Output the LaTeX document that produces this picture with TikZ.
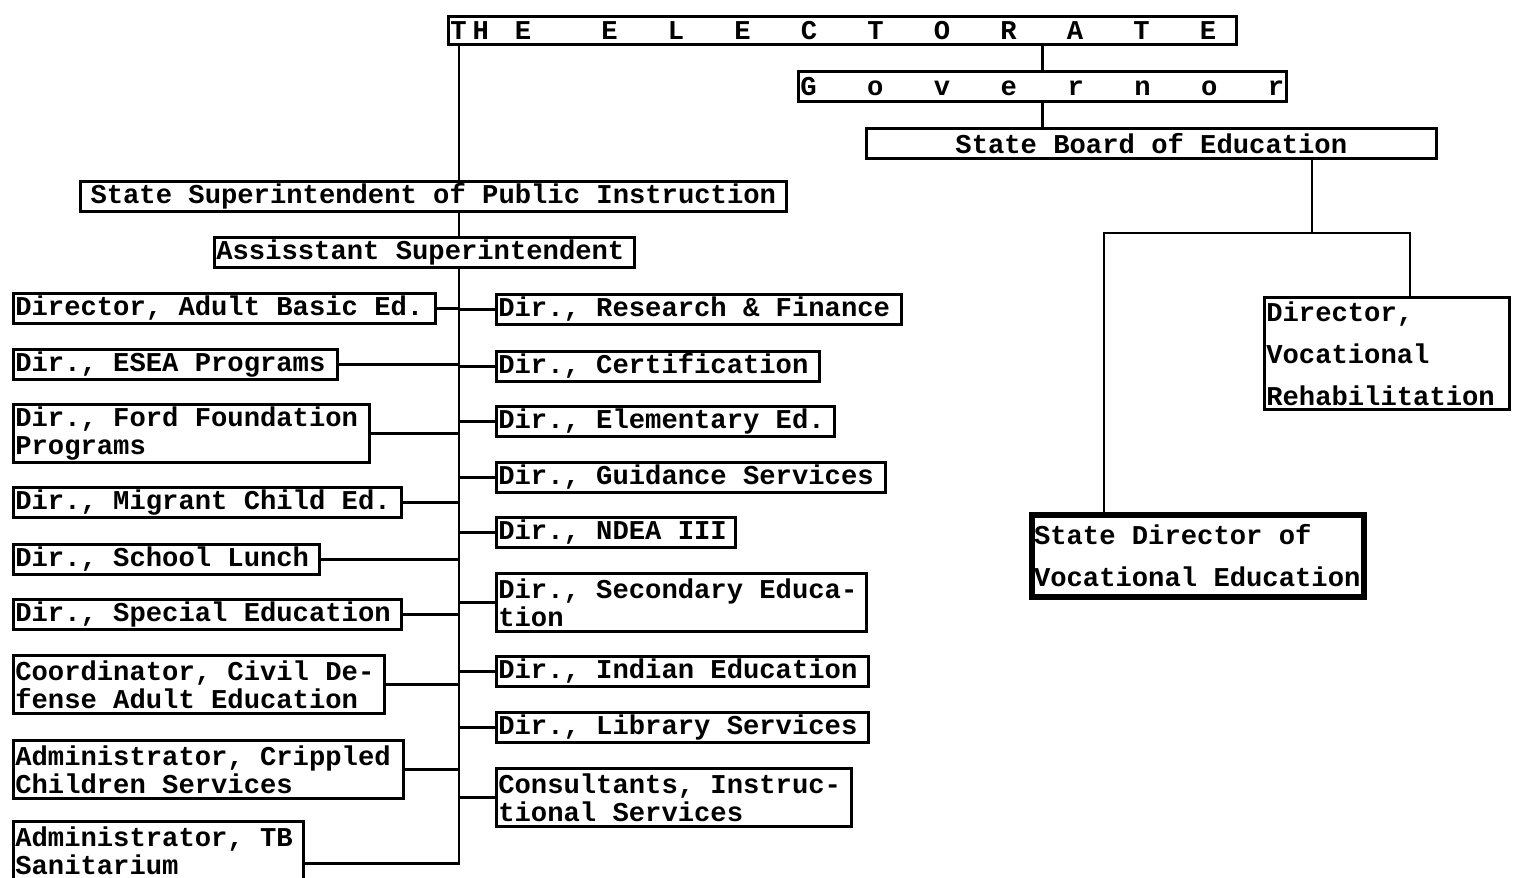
\documentclass[tikz,border=0pt]{standalone}
\usepackage{fontspec}
\setmainfont{Liberation Mono}

\begin{document}
\begin{tikzpicture}[x=0.5pt, y=-0.5pt, line width=1.3pt,
  every node/.style={font=\fontsize{13.6}{14}\selectfont\bfseries},
  unit/.style={draw, anchor=north west, inner xsep=1pt, inner ysep=0pt, align=flush left, minimum height=15pt},
  two/.style={minimum height=29pt},
  wide/.style={font=\fontsize{13.6}{21}\selectfont\bfseries}]
  \useasboundingbox (0,0) rectangle (1517,878);

  % top of the chart
  \node[unit, text width=392pt, minimum height=14pt] (elect) at (447,15) {T\kern3pt H\kern13pt E\hspace{10pt}\hfill E\hfill L\hfill E\hfill C\hfill T\hfill O\hfill R\hfill A\hfill T\hfill E\kern9pt};
  \node[unit, text width=242pt] (gov) at (797,70) {G\hfill o\hfill v\hfill e\hfill r\hfill n\hfill o\hfill r};
  \node[unit, text width=283pt, align=flush center] (board) at (865,127) {State Board of Education};
  \node[unit, text width=351pt, align=flush center] (sspi) at (79,180) {State Superintendent of Public Instruction};
  \node[unit, text width=208pt] (asst) at (213,236) {Assisstant Superintendent};

  % left column
  \node[unit, text width=209pt] (adult) at (12,292) {Director, Adult Basic Ed.};
  \node[unit, text width=160pt] (esea) at (12,348) {Dir., ESEA Programs};
  \node[unit, two, text width=176pt] (ford) at (12,403) {Dir., Ford Foundation\\Programs};
  \node[unit, text width=192pt] (migrant) at (12,486) {Dir., Migrant Child Ed.};
  \node[unit, text width=151pt] (lunch) at (12,543) {Dir., School Lunch};
  \node[unit, text width=192pt] (special) at (12,598) {Dir., Special Education};
  \node[unit, two, text width=183.5pt] (civil) at (12,654) {Coordinator, Civil De-\\fense Adult Education};
  \node[unit, two, text width=193pt] (crippled) at (12,739) {Administrator, Crippled\\Children Services};
  \node[unit, two, text width=143pt] (tb) at (12,820) {Administrator, TB\\Sanitarium};

  % right column
  \node[unit, text width=200.5pt] (research) at (495,293) {Dir., Research \& Finance};
  \node[unit, text width=159.5pt] (cert) at (495,350) {Dir., Certification};
  \node[unit, text width=167pt] (elem) at (495,405) {Dir., Elementary Ed.};
  \node[unit, text width=192.5pt] (guid) at (495,461) {Dir., Guidance Services};
  \node[unit, text width=117.5pt] (ndea) at (495,516) {Dir., NDEA III};
  \node[unit, two, text width=183pt] (second) at (495,572) {Dir., Secondary Educa-\\tion};
  \node[unit, text width=184pt] (indian) at (495,655) {Dir., Indian Education};
  \node[unit, text width=184pt] (library) at (495,711) {Dir., Library Services};
  \node[unit, two, text width=175.5pt] (consult) at (495,767) {Consultants, Instruc-\\tional Services};

  % vocational side
  \node[unit, wide, text width=120.5pt, minimum height=56pt] (rehab) at (1263,296) {Director,\\Vocational\\Rehabilitation};
  \node[unit, wide, text width=164pt, minimum height=41pt, line width=3pt] (voced) at (1029,512) {State Director of\\Vocational Education};

  % lines
  \coordinate (top) at (459,43);
  \coordinate (bot) at (459,865);
  \draw (top) -- (top |- sspi.north);
  \draw (top |- sspi.south) -- (top |- asst.north);
  \draw (top |- asst.south) -- (bot);
  \foreach \n in {adult,esea,ford,migrant,lunch,special,civil,crippled}
    \draw (\n.east) -- (\n.east -| top);
  \draw ([yshift=-6.5pt]tb.east) -- ([yshift=-6.5pt]tb.east -| top);
  \foreach \n in {research,cert,elem,guid,ndea,second,indian,library,consult}
    \draw (\n.west) -- (\n.west -| top);

  \draw (gov.north) -- (gov.north |- elect.south);
  \draw (gov.south) -- (gov.south |- board.north);
  \coordinate (split) at (1312,233);
  \coordinate (lbr) at (1104,233);
  \coordinate (rbr) at (1410,233);
  \draw (split |- board.south) -- (split);
  \draw (lbr |- voced.north) -- (lbr) -- (rbr) -- (rbr |- rehab.north);
\end{tikzpicture}
\end{document}
